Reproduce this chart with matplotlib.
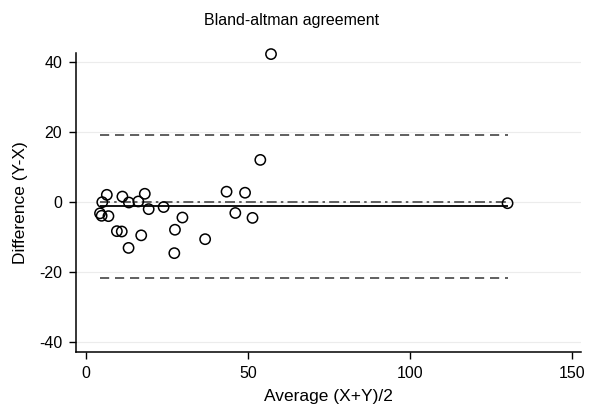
import matplotlib
matplotlib.use('Agg')
import matplotlib.pyplot as plt
import numpy as np

plt.rcParams['font.family'] = ['Liberation Sans', 'DejaVu Sans']
plt.rcParams['axes.unicode_minus'] = False

# average (X+Y)/2 and difference (Y-X)
avg = [57.1, 53.8, 43.4, 49.1, 6.5, 5.1, 11.3, 13.3, 16.2, 18.2, 19.4, 24.0,
       4.4, 4.9, 7.0, 9.6, 11.1, 17.1, 13.2, 29.8, 27.5, 27.3, 36.8, 46.1,
       51.4, 130.0]
diff = [42.4, 12.1, 3.0, 2.7, 2.1, 0.0, 1.6, -0.1, 0.2, 2.4, -2.0, -1.4,
        -3.2, -3.9, -4.0, -8.3, -8.4, -9.5, -13.1, -4.4, -7.9, -14.6, -10.6,
        -3.1, -4.5, -0.3]
mean_diff = -1.2
upper_loa = 19.3
lower_loa = -21.7

figure = plt.figure(figsize=(6.07, 4.08), dpi=100)
ax = figure.add_axes([0.1252, 0.1373, 0.8318, 0.7327])

x0, x1 = min(avg), max(avg)
ax.hlines([upper_loa, lower_loa], x0, x1, colors='#444444',
          linestyles=(0, (5.5, 3.5)), linewidth=1.2)
ax.hlines(0, x0, x1, colors='#444444', linestyles=(0, (6, 2.5, 1.5, 2.5)),
          linewidth=1.2)
ax.hlines(mean_diff, x0, x1, colors='black', linewidth=1.3)
ax.scatter(avg, diff, s=55, facecolors='none', edgecolors='black',
           linewidths=1.1, zorder=3, clip_on=False)

ax.set_xlim(-3.0, 152.6)
ax.set_ylim(-42.9, 42.7)
ax.set_xticks([0, 50, 100, 150])
ax.set_yticks([-40, -20, 0, 20, 40])
ax.grid(axis='y', color='#ececec', linewidth=0.8)
ax.set_axisbelow(True)
for side in ('top', 'right'):
    ax.spines[side].set_visible(False)
for side in ('left', 'bottom'):
    ax.spines[side].set_linewidth(1.1)
ax.tick_params(length=5, width=1.0, labelsize=11.5, pad=5)

ax.set_xlabel("Average (X+Y)/2", fontsize=12.5, labelpad=6)
ax.set_ylabel("Difference (Y-X)", fontsize=12.5, labelpad=8)
figure.text(0.481, 0.949, "Bland-altman agreement", fontsize=11.5,
            ha='center', va='center')

figure.savefig("out.png", dpi=100)
plt.close(figure)
